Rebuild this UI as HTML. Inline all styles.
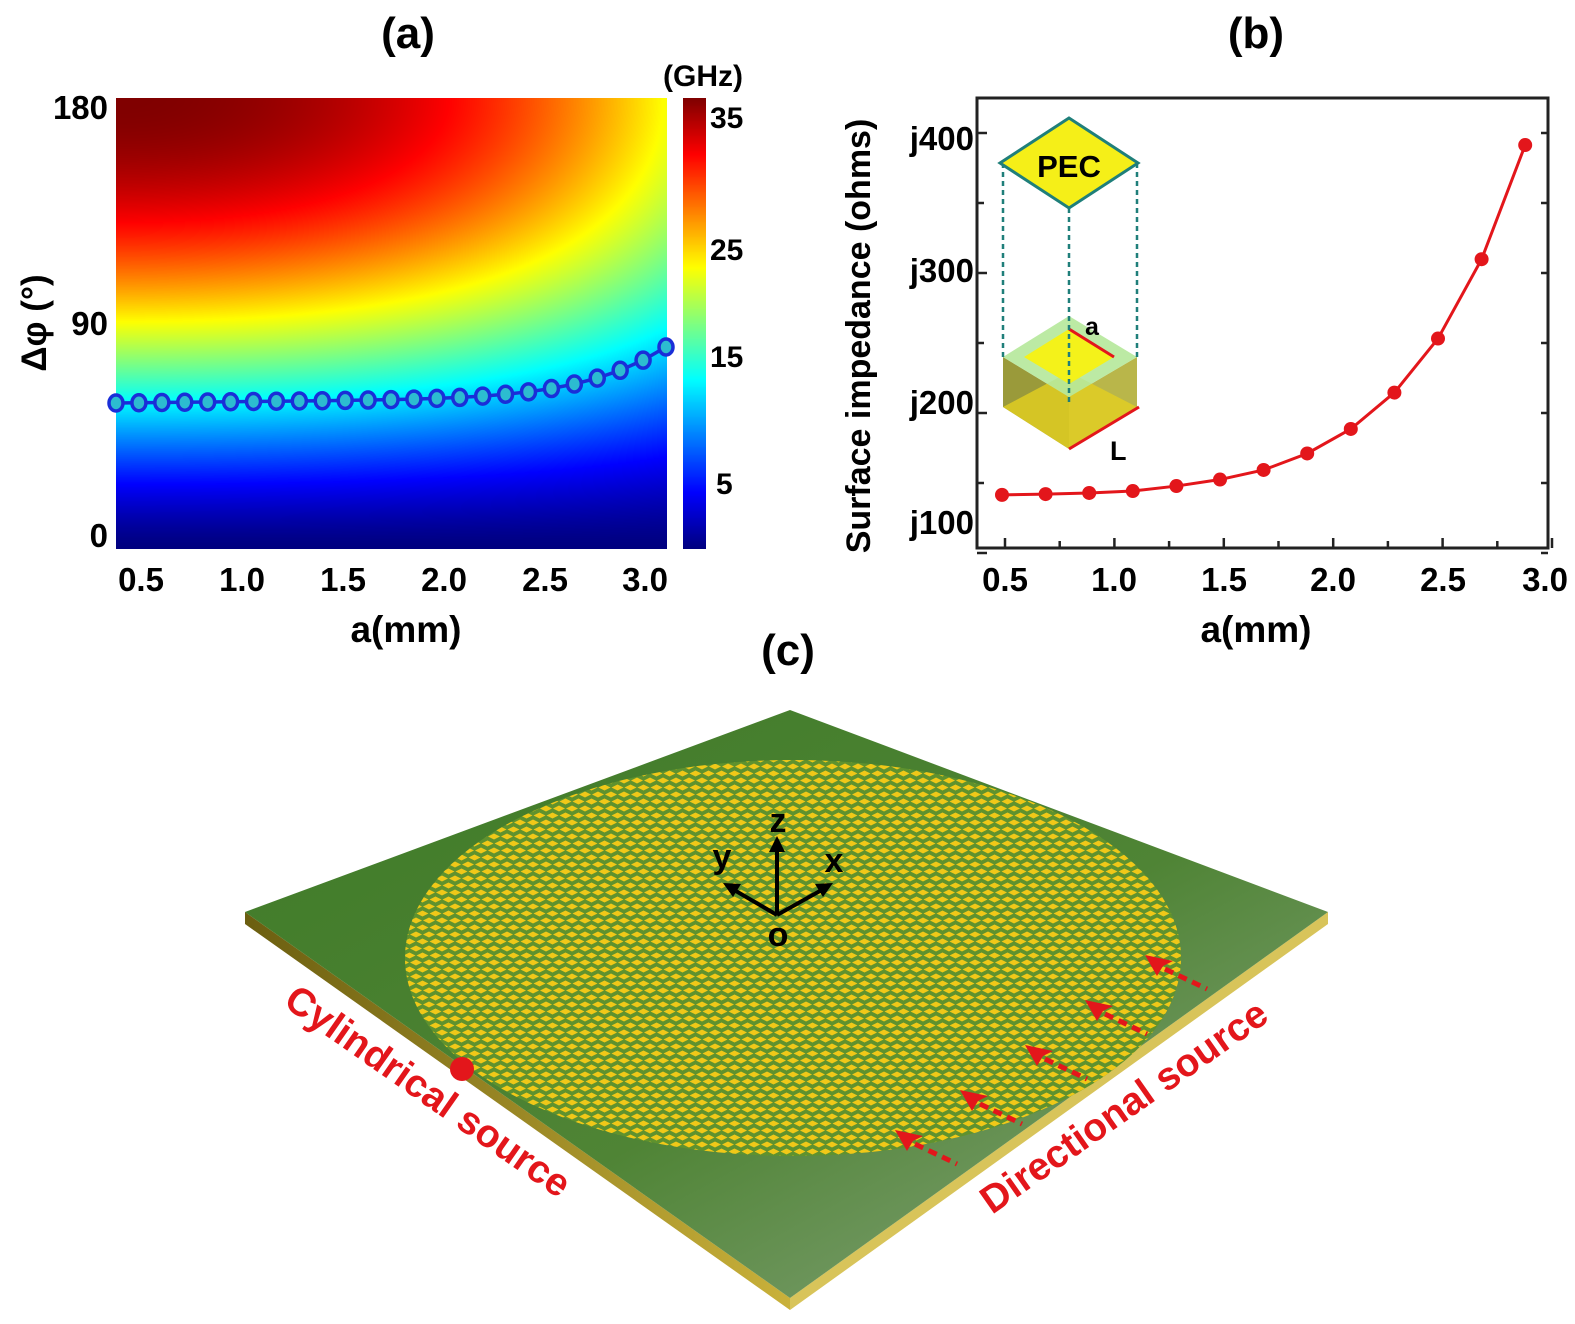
<!DOCTYPE html>
<html><head><meta charset="utf-8"><style>
body{margin:0;background:#fff;}
#wrap{position:relative;width:1575px;height:1324px;overflow:hidden;font-family:"Liberation Sans",Arial,sans-serif;}
canvas{position:absolute;}
svg{position:absolute;left:0;top:0;}
</style></head><body><div id="wrap">
<canvas id="hm" width="551" height="451" style="left:116px;top:98px"></canvas>
<canvas id="cb" width="23" height="451" style="left:683px;top:98px"></canvas>
<svg width="1575" height="1324" viewBox="0 0 1575 1324" font-family="Liberation Sans, Arial, sans-serif" font-weight="bold">
<defs>
<pattern id="dia" width="13" height="14" patternUnits="userSpaceOnUse">
<path d="M6.5 0.5 L12.5 3.5 L6.5 6.5 L0.5 3.5Z M0 7.5 L6 10.5 L0 13.5 Z M13 7.5 L7 10.5 L13 13.5Z" fill="#f0c818"/>
</pattern>
<linearGradient id="board" x1="0" y1="0" x2="1" y2="1">
<stop offset="0" stop-color="#3e7a27"/><stop offset="0.55" stop-color="#4f8435"/><stop offset="1" stop-color="#8fa888"/>
</linearGradient>
<linearGradient id="bside" x1="0" y1="0" x2="1" y2="0">
<stop offset="0" stop-color="#6b5e10"/><stop offset="1" stop-color="#c9b13a"/>
</linearGradient>
<clipPath id="ell"><ellipse cx="793" cy="958" rx="388" ry="198"/></clipPath>
</defs>
<text x="408" y="48" font-size="44" text-anchor="middle">(a)</text>
<text x="1256" y="48" font-size="44" text-anchor="middle">(b)</text>
<text x="788" y="665" font-size="44" text-anchor="middle">(c)</text>

<!-- panel a -->
<g font-size="33" text-anchor="end">
<text x="108" y="119">180</text><text x="108" y="335">90</text><text x="108" y="547">0</text>
</g>
<g font-size="33" text-anchor="middle">
<text x="141" y="591">0.5</text><text x="242" y="591">1.0</text><text x="343" y="591">1.5</text><text x="444" y="591">2.0</text><text x="545" y="591">2.5</text><text x="645" y="591">3.0</text>
</g>
<text x="406" y="642" font-size="37" text-anchor="middle">a(mm)</text>
<text transform="translate(46,323) rotate(-90)" font-size="35" text-anchor="middle">Δφ (°)</text>
<g font-size="30">
<text x="663" y="86">(GHz)</text>
<text x="710" y="128">35</text><text x="710" y="260">25</text><text x="710" y="367">15</text><text x="716" y="494">5</text>
</g>
<polyline id="bl" fill="none" stroke="#1a2ed8" stroke-width="3.5"/>
<g id="bc"></g>

<!-- panel b -->
<rect x="977" y="98" width="571" height="450" fill="none" stroke="#222" stroke-width="3"/>
<g stroke="#222" stroke-width="2.5" id="bt"></g>
<g font-size="33" text-anchor="end">
<text x="974" y="150">j400</text><text x="974" y="282">j300</text><text x="974" y="414">j200</text><text x="974" y="534">j100</text>
</g>
<g font-size="33" text-anchor="middle">
<text x="1005" y="591">0.5</text><text x="1114" y="591">1.0</text><text x="1224" y="591">1.5</text><text x="1333" y="591">2.0</text><text x="1443" y="591">2.5</text><text x="1545" y="591">3.0</text>
</g>
<text x="1256" y="642" font-size="37" text-anchor="middle">a(mm)</text>
<text transform="translate(870,336) rotate(-90)" font-size="34" text-anchor="middle">Surface impedance (ohms)</text>
<polyline id="rl" fill="none" stroke="#e3161b" stroke-width="3"/>
<g id="rc" fill="#e3161b"></g>
<g>
<path d="M1003 357 L1069 397 L1069 449 L1003 407Z" fill="#9a9a3a"/>
<path d="M1069 397 L1137 357 L1137 407 L1069 449Z" fill="#b9b64a"/>
<path d="M1003 407 L1069 449 L1137 407 L1069 372Z" fill="#e3d021" opacity="0.8"/>
<path d="M1069 316 L1003 357 L1069 397 L1137 357Z" fill="#b5e89a" opacity="0.9"/>
<path d="M1069 329 L1024 357 L1069 384 L1114 357Z" fill="#f4f21a"/>
<line x1="1069" y1="329" x2="1114" y2="357" stroke="#e3161b" stroke-width="3"/>
<line x1="1069" y1="449" x2="1139" y2="407" stroke="#e3161b" stroke-width="3"/>
<text x="1085" y="335" font-size="25">a</text>
<text x="1110" y="460" font-size="27">L</text>
<g stroke="#1f7f7a" stroke-width="2.5" stroke-dasharray="5,4">
<line x1="1003" y1="163" x2="1003" y2="357"/><line x1="1069" y1="208" x2="1069" y2="402"/><line x1="1137" y1="163" x2="1137" y2="357"/>
</g>
<path d="M1069 118 L1000 163 L1069 208 L1138 163Z" fill="#f5ef18" stroke="#1f7f7a" stroke-width="3"/>
<text x="1069" y="177" font-size="31" text-anchor="middle">PEC</text>
</g>

<!-- panel c -->
<path d="M245 912 L790 1298 L790 1310 L245 924Z" fill="url(#bside)"/>
<path d="M790 1298 L1328 912 L1328 924 L790 1310Z" fill="#d8c45a"/>
<path d="M790 710 L245 912 L790 1298 L1328 912Z" fill="url(#board)"/>
<ellipse cx="793" cy="958" rx="388" ry="198" fill="#5f922e"/>
<rect x="400" y="755" width="790" height="410" fill="url(#dia)" clip-path="url(#ell)"/>
<g stroke="#000" stroke-width="4" fill="none">
<line x1="777" y1="915" x2="777" y2="848"/><line x1="777" y1="915" x2="729" y2="887"/><line x1="777" y1="915" x2="827" y2="887"/>
</g>
<g fill="#000">
<path d="M777 836 L769 852 L785 852Z"/><path d="M723 883 L741 884 L733 897Z"/><path d="M833 883 L815 884 L823 897Z"/>
</g>
<g font-size="34" text-anchor="middle">
<text x="778" y="832">z</text><text x="722" y="868">y</text><text x="834" y="872">x</text><text x="778" y="946">o</text>
</g>
<circle cx="462" cy="1069" r="12" fill="#e3161b"/>
<text transform="translate(282,1005) rotate(35)" font-size="39" fill="#e3161b">Cylindrical source</text>
<text transform="translate(992,1215) rotate(-35)" font-size="39" fill="#e3161b">Directional source</text>
<g id="arr"></g>
</svg>
<script>
function jet(v){v=Math.max(0,Math.min(1,v));function c(x){return Math.round(255*Math.max(0,Math.min(1,x)));}
return [c(1.5-Math.abs(4*v-3)),c(1.5-Math.abs(4*v-2)),c(1.5-Math.abs(4*v-1))];}
(function(){var cv=document.getElementById('hm'),ctx=cv.getContext('2d'),W=cv.width,H=cv.height,img=ctx.createImageData(W,H);
for(var y=0;y<H;y++){var t=1-y/(H-1),s=Math.pow(Math.sin(t*Math.PI/2),1.38);
for(var x=0;x<W;x++){var u=x/(W-1),G=1-0.38*Math.pow(u,2.2);var c=jet(G*s),i=(y*W+x)*4;img.data[i]=c[0];img.data[i+1]=c[1];img.data[i+2]=c[2];img.data[i+3]=255;}}
ctx.putImageData(img,0,0);
var cb=document.getElementById('cb'),c2=cb.getContext('2d');for(var y=0;y<cb.height;y++){var c=jet(1-y/(cb.height-1));c2.fillStyle='rgb('+c+')';c2.fillRect(0,y,23,1);}
var NS='http://www.w3.org/2000/svg';
var pts=[],g=document.getElementById('bc');
for(var k=0;k<25;k++){var u=k/24,x=116+u*550,y=403-6*u-50*Math.pow(u,7);pts.push(x+','+y);
var e=document.createElementNS(NS,'ellipse');e.setAttribute('cx',x);e.setAttribute('cy',y);e.setAttribute('rx',7);e.setAttribute('ry',8);e.setAttribute('fill','#2cbcd0');e.setAttribute('stroke','#1a2ed8');e.setAttribute('stroke-width',3.5);g.appendChild(e);}
document.getElementById('bl').setAttribute('points',pts.join(' '));
var zy=[1135,1133,1130,1125,1112,1095,1070,1027,963,868,727,520,222],rp=[],rg=document.getElementById('rc');
for(var k=0;k<13;k++){var x=1002+k*43.6,y=zy[k]/2.61+60;rp.push(x+','+y);var c=document.createElementNS(NS,'circle');c.setAttribute('cx',x);c.setAttribute('cy',y);c.setAttribute('r',7);rg.appendChild(c);}
document.getElementById('rl').setAttribute('points',rp.join(' '));
var bt=document.getElementById('bt'),s='';
for(var i=0;i<=11;i++){var x=1005+i*54.7;s+='<line x1="'+x+'" y1="548" x2="'+x+'" y2="'+(i%2?541:538)+'"/>';}
for(var i=0;i<7;i++){var y=133+i*70;s+='<line x1="977" y1="'+y+'" x2="'+(i%2?984:987)+'" y2="'+y+'"/><line x1="1548" y1="'+y+'" x2="1541" y2="'+y+'"/>';}
bt.innerHTML=s;
var A=[[1145,955],[1085,1000],[1025,1045],[960,1090],[895,1130]],a='';
A.forEach(function(p){var x=p[0],y=p[1];a+='<path d="M'+x+' '+y+' l28 6 l-10 5 l-6 10Z" fill="#e3161b"/><line x1="'+(x+20)+'" y1="'+(y+14)+'" x2="'+(x+62)+'" y2="'+(y+34)+'" stroke="#e3161b" stroke-width="5" stroke-dasharray="9,6"/>';});
document.getElementById('arr').innerHTML=a;
})();
</script>
</div></body></html>
